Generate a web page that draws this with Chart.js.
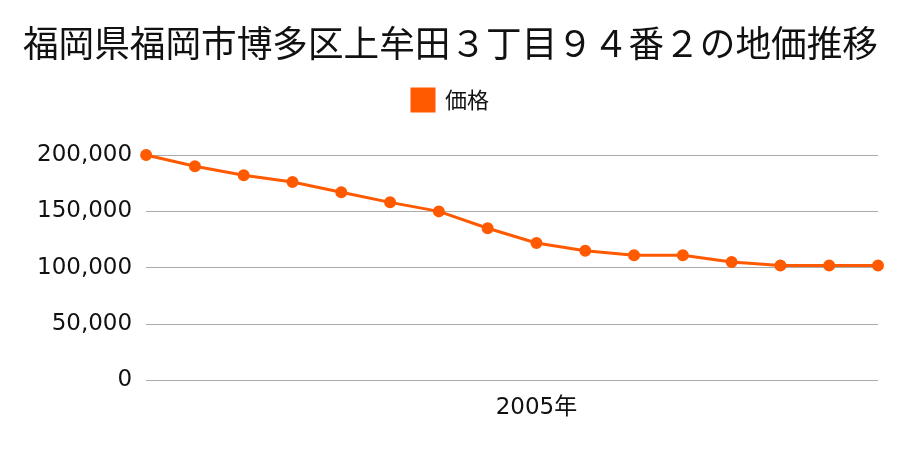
<!DOCTYPE html>
<html>
<head>
<meta charset="utf-8">
<script src="https://cdn.jsdelivr.net/npm/chart.js@4"></script>
<style>
  html, body { margin: 0; padding: 0; background: #fff; }
  #wrap { width: 900px; height: 450px; }
</style>
</head>
<body>
<div id="wrap"><canvas id="grafico"></canvas></div>
<script>
// years on the x axis; only 2005 gets a label
const years = [1997, 1998, 1999, 2000, 2001, 2002, 2003, 2004, 2005, 2006, 2007, 2008, 2009, 2010, 2011, 2012];
const shownYears = [2005];
// price per m2 (yen)
const prices = [200000, 190000, 182000, 176000, 167000, 158000, 150000, 135000, 122000, 115000, 111000, 111000, 105000, 102000, 102000, 102000];
const yTicks = [0, 50000, 100000, 150000, 200000];

const fuente = '"Noto Sans CJK JP", "Noto Sans", sans-serif';
const fuenteNum = '"DejaVu Sans", "Noto Sans CJK JP", sans-serif';
const naranja = '#ff5a00';

// extra space between legend and plot
const margenLeyenda = {
    id: 'margenLeyenda',
    beforeInit(chart) {
        const fitOriginal = chart.legend.fit;
        chart.legend.fit = function() {
            fitOriginal.bind(chart.legend)();
            this.height += 34;
        };
    }
};

new Chart(document.getElementById('grafico'), {
    type: 'line',
    data: {
        labels: years.map(y => y + '年'),
        datasets: [{
            label: '価格',
            data: prices,
            borderColor: naranja,
            backgroundColor: naranja,
            borderWidth: 3,
            pointRadius: 4.5,
            pointHoverRadius: 4.5,
            tension: 0,
            clip: false
        }]
    },
    plugins: [margenLeyenda],
    options: {
        responsive: true,
        maintainAspectRatio: false,
        animation: false,
        layout: { padding: { left: 23, right: 22, top: 0, bottom: 22 } },
        plugins: {
            title: {
                display: true,
                text: '福岡県福岡市博多区上牟田３丁目９４番２の地価推移',
                color: '#111',
                font: { family: fuente, size: 36.7, weight: 'normal' },
                padding: { top: 21, bottom: 14 }
            },
            legend: {
                labels: {
                    color: '#111',
                    font: { family: fuente, size: 22 },
                    boxWidth: 22,
                    boxHeight: 22,
                    padding: 10
                }
            },
            tooltip: { enabled: false }
        },
        scales: {
            x: {
                offset: false,
                grid: { display: false },
                border: { display: false },
                ticks: {
                    color: '#111',
                    font: { family: fuenteNum, size: 23 },
                    maxRotation: 0,
                    autoSkip: false,
                    padding: 6,
                    callback: function(val, i) {
                        return shownYears.includes(years[i]) ? years[i] + '年' : '';
                    }
                }
            },
            y: {
                min: 0,
                max: 200000,
                afterBuildTicks: axis => { axis.ticks = yTicks.map(v => ({ value: v })); },
                grid: { color: '#aaaaaa', lineWidth: 1, drawTicks: false },
                border: { display: false },
                ticks: {
                    color: '#111',
                    font: { family: fuenteNum, size: 23 },
                    padding: 14,
                    callback: v => v.toLocaleString('en-US')
                }
            }
        }
    }
});
</script>
</body>
</html>
